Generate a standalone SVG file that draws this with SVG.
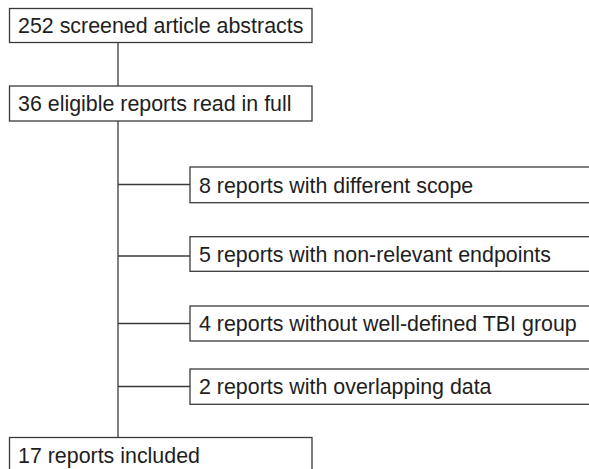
<svg xmlns="http://www.w3.org/2000/svg" width="589" height="469" viewBox="0 0 589 469">
<style>
.box{fill:#fff;stroke:#3a3a3a;stroke-width:1.3}
.lbl{font-family:"Liberation Sans",Arial,sans-serif;font-size:21.4px;fill:#1e1e1e}
.con{stroke:#3a3a3a;stroke-width:1.3;fill:none}
</style>
<rect width="589" height="469" fill="#fff"/>
<g id="connectors">
<line class="con" x1="118" y1="42.5" x2="118" y2="86"/>
<line class="con" x1="118" y1="121" x2="118" y2="437.5"/>
<line class="con" x1="118" y1="184.5" x2="190" y2="184.5"/>
<line class="con" x1="118" y1="256" x2="190" y2="256"/>
<line class="con" x1="118" y1="323.5" x2="190" y2="323.5"/>
<line class="con" x1="118" y1="386.5" x2="190" y2="386.5"/>
</g>
<g id="n1"><rect class="box" x="9.5" y="8.5" width="302.5" height="34"/><text class="lbl" x="18" y="33">252 screened article abstracts</text></g>
<g id="n2"><rect class="box" x="9.5" y="86" width="302.5" height="35"/><text class="lbl" x="18" y="111">36 eligible reports read in full</text></g>
<g id="n3"><rect class="box" x="190" y="167" width="420" height="35.7"/><text class="lbl" x="199" y="193">8 reports with different scope</text></g>
<g id="n4"><rect class="box" x="190" y="236.7" width="420" height="34.6"/><text class="lbl" x="199" y="262">5 reports with non-relevant endpoints</text></g>
<g id="n5"><rect class="box" x="190" y="306" width="420" height="35"/><text class="lbl" x="199" y="331">4 reports without well-defined TBI group</text></g>
<g id="n6"><rect class="box" x="190" y="369" width="420" height="35.3"/><text class="lbl" x="199" y="394">2 reports with overlapping data</text></g>
<g id="n7"><rect class="box" x="9.5" y="437.5" width="302.5" height="40"/><text class="lbl" x="18" y="463">17 reports included</text></g>
</svg>
